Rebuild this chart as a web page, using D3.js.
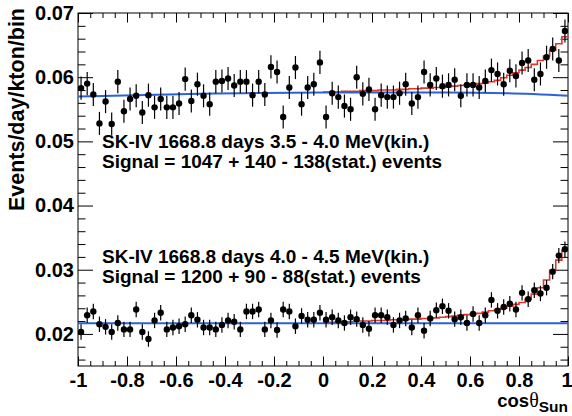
<!DOCTYPE html>
<html>
<head>
<meta charset="utf-8">
<script src="https://cdn.jsdelivr.net/npm/d3@7"></script>
<style>
body { margin: 0; background: #fff; }
</style>
</head>
<body>
<div id="chart"></div>
<script>
// binning of cos(theta_sun): 80 bins from -1 to 1
const binLow = -1;
const binWidth = 0.025;

// 3.5 - 4.0 MeV sample
const topValues = [
    0.0583, 0.0590, 0.0573, 0.0528, 0.0562, 0.0527, 0.0593, 0.0547, 0.0566, 0.0571,
    0.0545, 0.0572, 0.0553, 0.0566, 0.0553, 0.0553, 0.0559, 0.0597, 0.0563, 0.0589,
    0.0571, 0.0558, 0.0593, 0.0594, 0.0598, 0.0587, 0.0593, 0.0593, 0.0572, 0.0593,
    0.0573, 0.0616, 0.0608, 0.0538, 0.0584, 0.0615, 0.0558, 0.0584, 0.0589, 0.0623,
    0.0538, 0.0575, 0.0569, 0.0555, 0.0550, 0.0600, 0.0574, 0.0581, 0.0550, 0.0572,
    0.0569, 0.0569, 0.0575, 0.0589, 0.0559, 0.0569, 0.0608, 0.0588, 0.0598, 0.0586,
    0.0588, 0.0596, 0.0571, 0.0588, 0.0588, 0.0584, 0.0594, 0.0611, 0.0605, 0.0589,
    0.0610, 0.0602, 0.0622, 0.0626, 0.0596, 0.0605, 0.0631, 0.0644, 0.0626, 0.0672
];
const topError = 0.0018;

// 4.0 - 4.5 MeV sample
const botValues = [
    0.0203, 0.0229, 0.0235, 0.0215, 0.0211, 0.0203, 0.0217, 0.0207, 0.0207, 0.0238,
    0.0203, 0.0192, 0.0221, 0.0233, 0.0207, 0.0210, 0.0212, 0.0215, 0.0229, 0.0222,
    0.0210, 0.0210, 0.0207, 0.0214, 0.0221, 0.0219, 0.0207, 0.0235, 0.0235, 0.0238,
    0.0207, 0.0221, 0.0206, 0.0238, 0.0235, 0.0212, 0.0228, 0.0222, 0.0222, 0.0233,
    0.0222, 0.0226, 0.0221, 0.0217, 0.0226, 0.0223, 0.0214, 0.0208, 0.0229, 0.0229,
    0.0226, 0.0214, 0.0221, 0.0224, 0.0210, 0.0229, 0.0205, 0.0224, 0.0237, 0.0243,
    0.0236, 0.0223, 0.0226, 0.0217, 0.0231, 0.0217, 0.0229, 0.0253, 0.0236, 0.0242,
    0.0247, 0.0238, 0.0264, 0.0254, 0.0268, 0.0263, 0.0272, 0.0297, 0.0322, 0.0332
];
const botError = 0.0012;

// background shape (blue)
const bgX = [-1, -0.5, 0, 0.5, 0.75, 1];
const bgTop = [0.0570, 0.0574, 0.0576, 0.0576, 0.0575, 0.0571];
const bgBot = [0.02165, 0.02165, 0.02168, 0.02168, 0.02167, 0.02165];

// signal + background fit (red histogram), bins 40..79
const fitStartBin = 40;
const fitTop = [
    0.0577, 0.0577, 0.0577, 0.0578, 0.0578, 0.0578, 0.0579, 0.0579, 0.0579, 0.0580,
    0.0580, 0.0580, 0.0581, 0.0581, 0.0582, 0.0582, 0.0583, 0.0583, 0.0584, 0.0584,
    0.0585, 0.0586, 0.0587, 0.0588, 0.0589, 0.0590, 0.0591, 0.0593, 0.0595, 0.0599,
    0.0603, 0.0607, 0.0611, 0.0615, 0.0620, 0.0626, 0.0633, 0.0642, 0.0652, 0.0663
];
const fitBot = [
    0.0218, 0.0218, 0.0219, 0.0219, 0.0219, 0.0220, 0.0220, 0.0220, 0.0221, 0.0221,
    0.0221, 0.0222, 0.0222, 0.0222, 0.0223, 0.0223, 0.0224, 0.0224, 0.0225, 0.0226,
    0.0227, 0.0228, 0.0229, 0.0230, 0.0231, 0.0232, 0.0234, 0.0236, 0.0238, 0.0240,
    0.0243, 0.0246, 0.0249, 0.0254, 0.0262, 0.0272, 0.0284, 0.0299, 0.0315, 0.0330
];

const xMajor = [-1, -0.8, -0.6, -0.4, -0.2, 0, 0.2, 0.4, 0.6, 0.8, 1];
const yMajor = [0.02, 0.03, 0.04, 0.05, 0.06, 0.07];

const labelTop = ["SK-IV 1668.8 days 3.5 - 4.0 MeV(kin.)", "Signal = 1047 + 140 - 138(stat.) events"];
const labelBot = ["SK-IV 1668.8 days 4.0 - 4.5 MeV(kin.)", "Signal = 1200 + 90 - 88(stat.) events"];

const width = 572, height = 416;
const margin = {left: 78, right: 4, top: 13, bottom: 50};
const font = "'Liberation Sans', Arial, Helvetica, sans-serif";

const svg = d3.select("#chart").append("svg")
    .attr("width", width)
    .attr("height", height);

svg.append("rect").attr("width", width).attr("height", height).attr("fill", "#fff");

const x = d3.scaleLinear().domain([-1, 1]).range([margin.left, width - margin.right]);
const y = d3.scaleLinear().domain([0.015, 0.07]).range([height - margin.bottom, margin.top]);

const xMinor = d3.range(0, 41).map(function (i) { return -1 + i * 0.05; })
    .filter(function (v) { return Math.abs(Math.round(v * 5) - v * 5) > 1e-6; });
const yMinor = d3.range(0, 28).map(function (i) { return 0.016 + i * 0.002; })
    .filter(function (v) { return Math.abs(Math.round(v * 100) - v * 100) > 1e-6 && v < 0.0701; });

function styleAxis(g) {
    g.select(".domain").remove();
    g.selectAll("line").attr("stroke", "#000").attr("stroke-width", 1);
    g.selectAll("text")
        .attr("fill", "#000")
        .attr("font-family", font)
        .attr("font-weight", "bold")
        .attr("font-size", 20);
}

const plotBottom = height - margin.bottom;
const plotRight = width - margin.right;

// bottom axis
svg.append("g").attr("transform", "translate(0," + plotBottom + ")")
    .call(d3.axisBottom(x).tickValues(xMinor).tickSizeInner(-5).tickSizeOuter(0).tickFormat(""))
    .call(styleAxis);
svg.append("g").attr("transform", "translate(0," + plotBottom + ")")
    .call(d3.axisBottom(x).tickValues(xMajor).tickSizeInner(-9.5).tickSizeOuter(0).tickPadding(7)
        .tickFormat(function (d) { return String(d); }))
    .call(styleAxis)
    .selectAll("text")
    .attr("dx", function (d) { return d === 1 ? -1.5 : 0; });

// top axis (ticks only)
svg.append("g").attr("transform", "translate(0," + margin.top + ")")
    .call(d3.axisTop(x).tickValues(xMinor).tickSizeInner(-5).tickSizeOuter(0).tickFormat(""))
    .call(styleAxis);
svg.append("g").attr("transform", "translate(0," + margin.top + ")")
    .call(d3.axisTop(x).tickValues(xMajor).tickSizeInner(-9.5).tickSizeOuter(0).tickFormat(""))
    .call(styleAxis);

// left axis
svg.append("g").attr("transform", "translate(" + margin.left + ",0)")
    .call(d3.axisLeft(y).tickValues(yMinor).tickSizeInner(-7.5).tickSizeOuter(0).tickFormat(""))
    .call(styleAxis);
svg.append("g").attr("transform", "translate(" + margin.left + ",0)")
    .call(d3.axisLeft(y).tickValues(yMajor).tickSizeInner(-15).tickSizeOuter(0).tickPadding(4)
        .tickFormat(function (d) { return String(d); }))
    .call(styleAxis);

// right axis (ticks only)
svg.append("g").attr("transform", "translate(" + plotRight + ",0)")
    .call(d3.axisRight(y).tickValues(yMinor).tickSizeInner(-7.5).tickSizeOuter(0).tickFormat(""))
    .call(styleAxis);
svg.append("g").attr("transform", "translate(" + plotRight + ",0)")
    .call(d3.axisRight(y).tickValues(yMajor).tickSizeInner(-15).tickSizeOuter(0).tickFormat(""))
    .call(styleAxis);

// frame
svg.append("rect")
    .attr("x", margin.left).attr("y", margin.top)
    .attr("width", plotRight - margin.left)
    .attr("height", plotBottom - margin.top)
    .attr("fill", "none").attr("stroke", "#000").attr("stroke-width", 1);

// red fit histograms
function stepPath(values) {
    let pts = [];
    values.forEach(function (v, i) {
        let lo = binLow + (fitStartBin + i) * binWidth;
        pts.push([lo, v]);
        pts.push([lo + binWidth, v]);
    });
    return d3.line().x(function (d) { return x(d[0]); }).y(function (d) { return y(d[1]); })(pts);
}
[fitTop, fitBot].forEach(function (vals) {
    svg.append("path")
        .attr("d", stepPath(vals))
        .attr("fill", "none")
        .attr("stroke", "#e0352b")
        .attr("stroke-width", 1.6);
});

// blue background curves
const bgLine = d3.line().curve(d3.curveMonotoneX)
    .x(function (d) { return x(d[0]); })
    .y(function (d) { return y(d[1]); });
[bgTop, bgBot].forEach(function (vals) {
    svg.append("path")
        .attr("d", bgLine(bgX.map(function (v, i) { return [v, vals[i]]; })))
        .attr("fill", "none")
        .attr("stroke", "#2a62d8")
        .attr("stroke-width", 2);
});

// data points with error bars
function drawPoints(values, err) {
    const g = svg.append("g");
    g.selectAll("line")
        .data(values)
        .enter()
        .append("line")
        .attr("x1", function (d, i) { return x(binLow + (i + 0.5) * binWidth); })
        .attr("x2", function (d, i) { return x(binLow + (i + 0.5) * binWidth); })
        .attr("y1", function (d) { return y(d - err); })
        .attr("y2", function (d) { return y(d + err); })
        .attr("stroke", "#000")
        .attr("stroke-width", 1.2);
    g.selectAll("circle")
        .data(values)
        .enter()
        .append("circle")
        .attr("cx", function (d, i) { return x(binLow + (i + 0.5) * binWidth); })
        .attr("cy", function (d) { return y(d); })
        .attr("r", 3.2)
        .attr("fill", "#000");
}
drawPoints(topValues, topError);
drawPoints(botValues, botError);

// annotations
function drawLabel(lines, y0) {
    svg.append("g").selectAll("text")
        .data(lines)
        .enter()
        .append("text")
        .attr("x", 102)
        .attr("y", function (d, i) { return y0 + i * 20; })
        .attr("font-family", font)
        .attr("font-weight", "bold")
        .attr("font-size", 19)
        .attr("fill", "#000")
        .text(function (d) { return d; });
}
drawLabel(labelTop, 148);
drawLabel(labelBot, 263);

// axis titles
svg.append("text")
    .attr("transform", "translate(24,8) rotate(-90)")
    .attr("text-anchor", "end")
    .attr("font-family", font)
    .attr("font-weight", "bold")
    .attr("font-size", 21.5)
    .text("Events/day/kton/bin");

const xt = svg.append("text")
    .attr("x", plotRight)
    .attr("y", 407)
    .attr("text-anchor", "end")
    .attr("font-family", font)
    .attr("font-weight", "bold")
    .attr("font-size", 18.5);
xt.append("tspan").text("cos");
xt.append("tspan").attr("font-family", "'Liberation Serif', serif").attr("font-weight", "normal").attr("font-size", 20).text("θ");
xt.append("tspan").attr("font-size", 15.5).attr("dy", 5).text("Sun");
</script>
</body>
</html>
